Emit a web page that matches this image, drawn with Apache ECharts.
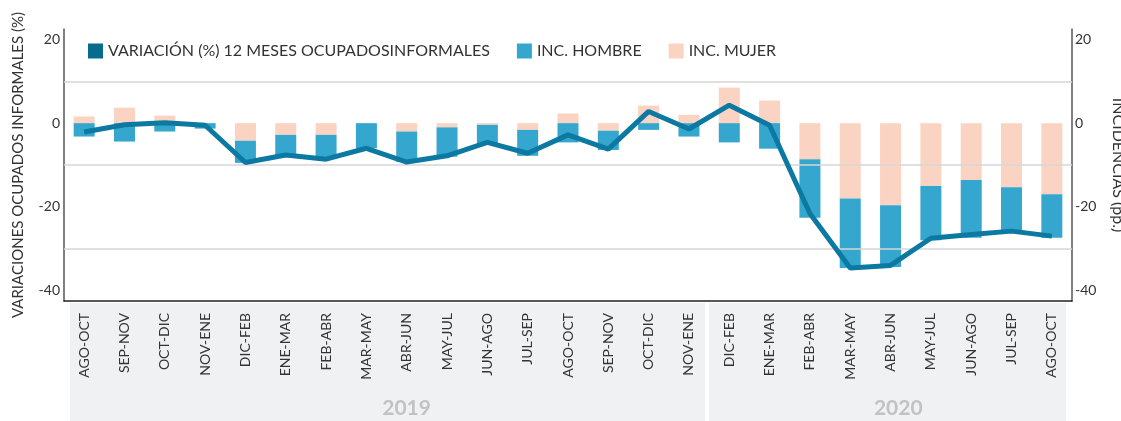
<!DOCTYPE html>
<html>
<head>
<meta charset="utf-8">
<script src="https://cdn.jsdelivr.net/npm/echarts@6/dist/echarts.min.js"></script>
<style>
  html, body { margin: 0; padding: 0; background: #fff; }
  #chart { width: 1121px; height: 421px; }
</style>
</head>
<body>
<div id="chart"></div>
<script>
var categories = ['AGO-OCT', 'SEP-NOV', 'OCT-DIC', 'NOV-ENE', 'DIC-FEB', 'ENE-MAR', 'FEB-ABR', 'MAR-MAY',
  'ABR-JUN', 'MAY-JUL', 'JUN-AGO', 'JUL-SEP', 'AGO-OCT', 'SEP-NOV', 'OCT-DIC', 'NOV-ENE',
  'DIC-FEB', 'ENE-MAR', 'FEB-ABR', 'MAR-MAY', 'ABR-JUN', 'MAY-JUL', 'JUN-AGO', 'JUL-SEP', 'AGO-OCT'];
var years = ['2019', '2020'];
var yearCounts = [16, 9];

var variacion = [-2.1, -0.4, 0.1, -0.5, -9.4, -7.6, -8.6, -6.0, -9.3, -7.8, -4.6, -7.2, -2.8, -6.2, 2.8, -1.4,
  4.3, -0.5, -21.6, -34.6, -34.0, -27.5, -26.6, -25.8, -27.0];
var hombre = [-3.2, -4.4, -2.0, -1.3, -5.3, -5.0, -5.6, -6.0, -7.3, -7.0, -4.4, -6.2, -4.6, -4.6, -1.6, -3.2,
  -4.6, -6.1, -14.0, -16.6, -14.8, -13.0, -13.8, -10.5, -10.4];
var mujer = [1.6, 3.7, 1.8, 0, -4.2, -2.8, -2.8, 0, -2.0, -1.0, -0.4, -1.6, 2.3, -1.8, 4.2, 2.0,
  8.5, 5.4, -8.6, -18.0, -19.6, -15.0, -13.6, -15.3, -17.0];
var gridLines = [10, -10, -30];

var FONT = 'Lato';
var dom = document.getElementById('chart');
var myChart = echarts.init(dom, null, { renderer: 'canvas' });

var yAxisBase = {
  type: 'value',
  min: -42.5,
  max: 22.5,
  interval: 2.5,
  splitLine: { show: false },
  axisTick: { show: false },
  axisLine: { show: true, lineStyle: { color: '#555', width: 1.5 } },
  axisLabel: {
    color: '#333',
    fontSize: 14,
    fontFamily: FONT,
    formatter: function (v) { return v % 20 === 0 ? String(v) : ''; }
  },
  nameLocation: 'middle',
  nameTextStyle: { color: '#333', fontSize: 15, fontFamily: FONT }
};

var option = {
  animation: false,
  textStyle: { fontFamily: FONT },
  grid: { left: 64, right: 49, top: 29, bottom: 120, containLabel: false, outerBoundsMode: 'none' },
  legend: {
    left: 83,
    top: 38,
    icon: 'rect',
    itemWidth: 15,
    itemHeight: 15,
    itemGap: 27,
    textStyle: { color: '#333', fontSize: 16, fontFamily: FONT },
    data: ['VARIACIÓN (%) 12 MESES OCUPADOSINFORMALES', 'INC. HOMBRE', 'INC. MUJER']
  },
  xAxis: {
    type: 'category',
    data: categories,
    axisTick: { show: false },
    axisLine: { onZero: false, lineStyle: { color: '#222', width: 1.5 } },
    axisLabel: { rotate: 90, color: '#333', fontSize: 14, fontFamily: FONT, margin: 12, interval: 0 }
  },
  yAxis: [
    Object.assign({}, yAxisBase, {
      position: 'left',
      name: 'VARIACIONES OCUPADOS INFORMALES (%)',
      nameGap: 38,
      nameRotate: 90,
      axisLabel: Object.assign({}, yAxisBase.axisLabel, { margin: 4 })
    }),
    Object.assign({}, yAxisBase, {
      position: 'right',
      name: 'INCIDENCIAS (pp.)',
      nameGap: 38,
      nameRotate: -90,
      nameTextStyle: { color: '#333', fontSize: 16, fontFamily: FONT },
      axisLabel: Object.assign({}, yAxisBase.axisLabel, { margin: 3 })
    })
  ],
  series: [
    {
      name: 'INC. MUJER',
      type: 'bar',
      stack: 'inc',
      yAxisIndex: 1,
      barWidth: 21,
      itemStyle: { color: '#fad3c2' },
      data: mujer
    },
    {
      name: 'INC. HOMBRE',
      type: 'bar',
      stack: 'inc',
      yAxisIndex: 1,
      barWidth: 21,
      itemStyle: { color: '#35a6cd' },
      data: hombre,
      markLine: {
        silent: true,
        symbol: 'none',
        label: { show: false },
        lineStyle: { color: '#d6d6d6', width: 1.5, type: 'solid' },
        data: gridLines.map(function (v) { return { yAxis: v }; })
      }
    },
    {
      name: 'VARIACIÓN (%) 12 MESES OCUPADOSINFORMALES',
      type: 'line',
      yAxisIndex: 0,
      z: 5,
      showSymbol: false,
      symbol: 'none',
      itemStyle: { color: '#086a8c' },
      lineStyle: { color: '#0b79a2', width: 5 },
      data: variacion
    }
  ]
};

myChart.setOption(option);

// grey year bands under the category labels, placed from the category scale
function drawYearBands() {
  var x0 = myChart.convertToPixel({ xAxisIndex: 0 }, 0);
  var x1 = myChart.convertToPixel({ xAxisIndex: 0 }, 1);
  var step = x1 - x0;
  var axisBottom = myChart.convertToPixel({ yAxisIndex: 0 }, -42.5);
  var graphics = [];
  var start = 0;
  years.forEach(function (year, i) {
    var left = x0 - step / 2 + start * step;
    var right = left + yearCounts[i] * step;
    left += (i === 0) ? 6 : 0;
    right -= (i === years.length - 1) ? 6 : 4;
    graphics.push({
      type: 'rect',
      z: -10,
      shape: { x: left, y: axisBottom + 2, width: right - left, height: 421 - axisBottom },
      style: { fill: '#f0f1f3' },
      silent: true
    });
    graphics.push({
      type: 'text',
      z: -5,
      x: left + (right - left) * 0.53,
      y: axisBottom + 107,
      style: {
        text: year,
        fill: '#c2c2c2',
        font: 'bold 21px ' + FONT,
        align: 'center',
        verticalAlign: 'middle'
      },
      silent: true
    });
    start += yearCounts[i];
  });
  myChart.setOption({ graphic: graphics });
}
drawYearBands();

window.addEventListener('resize', myChart.resize);
</script>
</body>
</html>
